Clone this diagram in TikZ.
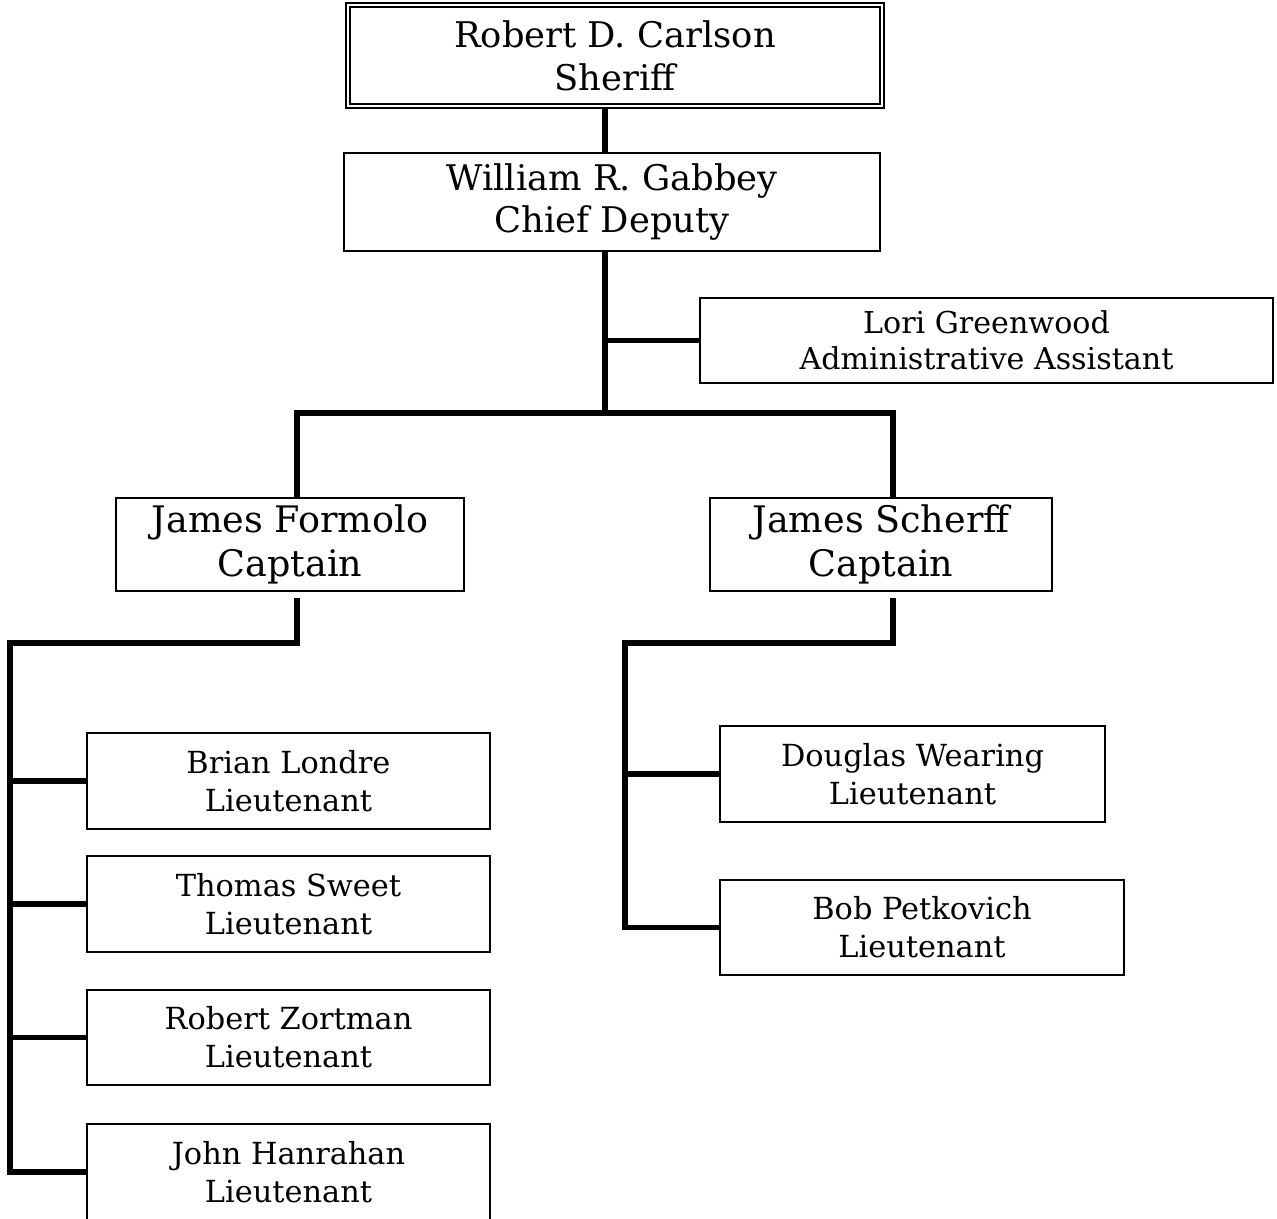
\documentclass[tikz,border=0pt]{standalone}
\usepackage{fontspec}
\setmainfont{DejaVu Serif}
\begin{document}
\begin{tikzpicture}[x=0.75pt,y=-0.75pt,
  box/.style={draw, line width=1.2pt, inner sep=0pt, align=center, fill=white},
  topbox/.style={draw, double, double distance=1.5pt, line width=1.5pt, inner sep=0pt, align=center, fill=white},
  bigtxt/.style={font=\fontsize{26.5}{32}\selectfont},
  captxt/.style={font=\fontsize{27.4}{33}\selectfont},
  smalltxt/.style={font=\fontsize{22.6}{27}\selectfont},
  lttxt/.style={font=\fontsize{22.8}{28.5}\selectfont},
  conn/.style={line width=4.3pt, line join=miter, line cap=butt}]
\useasboundingbox (0,0) rectangle (1277,1218);

% nodes
\node[topbox, bigtxt, minimum width=400.5pt, minimum height=75.75pt] (sheriff) at (615,55.5) {Robert D. Carlson\\Sheriff};
\node[box, bigtxt, minimum width=402pt, minimum height=73.5pt] (chief) at (612,202) {William R. Gabbey\\Chief Deputy};
\node[box, smalltxt, minimum width=429.75pt, minimum height=63.75pt] (lori) at (986.5,340.5) {Lori Greenwood\\Administrative Assistant};
\node[box, captxt, minimum width=261pt, minimum height=69.75pt] (formolo) at (290,544.5) {James Formolo\\Captain};
\node[box, captxt, minimum width=256.5pt, minimum height=69.75pt] (scherff) at (881,544.5) {James Scherff\\Captain};
\node[box, lttxt, minimum width=302.25pt, minimum height=72pt] (brian) at (288.5,781) {Brian Londre\\Lieutenant};
\node[box, lttxt, minimum width=302.25pt, minimum height=72pt] (thomas) at (288.5,904) {Thomas Sweet\\Lieutenant};
\node[box, lttxt, minimum width=302.25pt, minimum height=71.25pt] (zortman) at (288.5,1037.5) {Robert Zortman\\Lieutenant};
\node[box, lttxt, minimum width=302.25pt, minimum height=72pt] (hanrahan) at (288.5,1172) {John Hanrahan\\Lieutenant};
\node[box, lttxt, minimum width=288.75pt, minimum height=72pt] (douglas) at (912.5,774) {Douglas Wearing\\Lieutenant};
\node[box, lttxt, minimum width=303pt, minimum height=71.25pt] (bob) at (922,927.5) {Bob Petkovich\\Lieutenant};

% coordinates
\coordinate (spine) at (605,0);
\coordinate (bus) at (605,413);
\coordinate (fl) at (297,413);
\coordinate (sl) at (893,413);
\coordinate (fs) at (297,598);
\coordinate (fk) at (297,643);
\coordinate (fc) at (10,643);
\coordinate (ss) at (893,598);
\coordinate (sk) at (893,643);
\coordinate (sc) at (625,643);

% connectors
\draw[conn] (sheriff.south -| spine) -- (chief.north -| spine);
\draw[conn] (chief.south -| bus) -- (bus);
\draw[conn] (lori.west) -- (lori.west -| bus);
\draw[conn] (formolo.north -| fl) -- (fl) -- (sl) -- (scherff.north -| sl);
\draw[conn] (fs) -- (fk) -- (fc) -- (hanrahan.west -| fc) -- (hanrahan.west);
\draw[conn] (brian.west) -- (brian.west -| fc);
\draw[conn] (thomas.west) -- (thomas.west -| fc);
\draw[conn] (zortman.west) -- (zortman.west -| fc);
\draw[conn] (ss) -- (sk) -- (sc) -- (bob.west -| sc) -- (bob.west);
\draw[conn] (douglas.west) -- (douglas.west -| sc);
\end{tikzpicture}
\end{document}
